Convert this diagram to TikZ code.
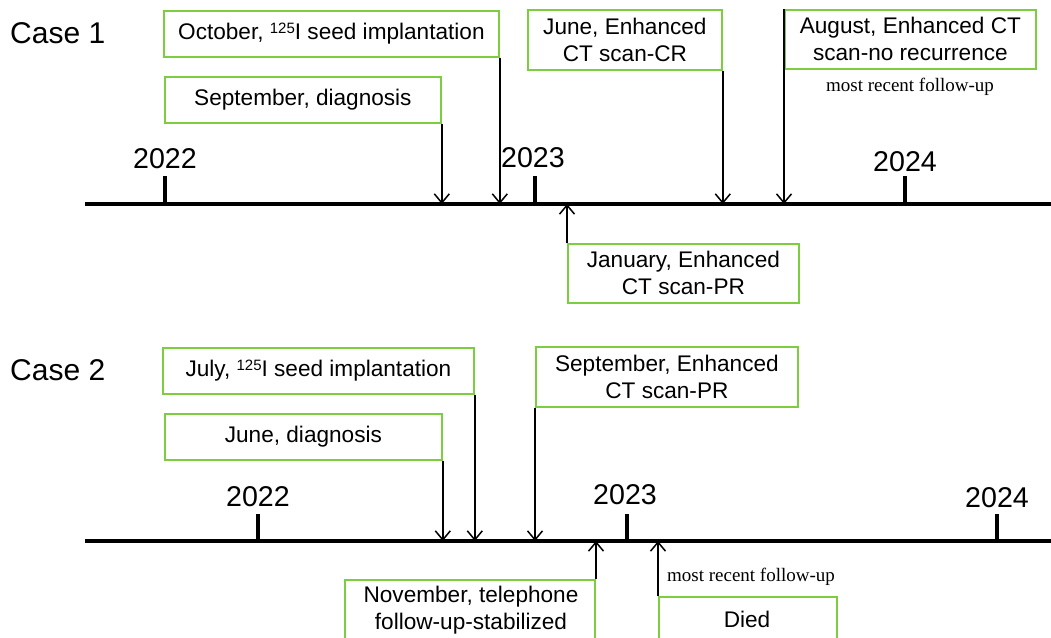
\documentclass[tikz,border=0pt]{standalone}
\usepackage{fontspec}
\setmainfont{Liberation Sans}
\newfontfamily\serifnote{Liberation Serif}
\usetikzlibrary{arrows.meta}
\definecolor{boxgreen}{RGB}{125,205,65}
\tikzset{
  evbox/.style={draw=boxgreen, line width=1.8pt, fill=white, inner sep=0pt, anchor=north west,
    align=center, font=\fontsize{22.6}{27}\selectfont},
  axisline/.style={line width=3.3pt, -{Straight Barb[length=7pt,width=14pt,line width=1.5pt]}},
  tickline/.style={line width=3.2pt},
  evarrow/.style={line width=1.5pt, -{Straight Barb[length=9pt,width=15pt,line width=1.5pt]}},
  yearlbl/.style={font=\fontsize{28.6}{30}\selectfont, inner sep=0pt},
  caselbl/.style={font=\fontsize{30}{32}\selectfont, inner sep=0pt, anchor=west},
  notelbl/.style={font=\serifnote\fontsize{19}{21}\selectfont, inner sep=0pt}
}
\newcommand{\isosup}[1]{\raisebox{0.5ex}{\fontsize{15}{15}\selectfont #1}}
\begin{document}
\begin{tikzpicture}[x=1pt,y=-1pt]
\useasboundingbox (0,0) rectangle (1051,637);
% ---------------- Case 1 ----------------
\node[caselbl] (c1) at (10,33) {Case 1};
\coordinate (a1s) at (85,204);
\coordinate (a1e) at (1062,204);
\draw[axisline] (a1s) -- (a1e);
\coordinate (t1a) at (165,204);
\coordinate (t1b) at (535,204);
\coordinate (t1c) at (905,204);
\draw[tickline] (t1a) -- ++(0,-28);
\draw[tickline] (t1b) -- ++(0,-28);
\draw[tickline] (t1c) -- ++(0,-28);
\node[yearlbl] (y1a) at (165,159) {2022};
\node[yearlbl] (y1b) at (533,158) {2023};
\node[yearlbl] (y1c) at (905,162) {2024};

\node[evbox, minimum width=335pt, minimum height=46pt] (oct) at (163,10) {October, \isosup{125}I seed implantation};
\node[evbox, minimum width=276pt, minimum height=46pt] (sep1) at (164,76) {September, diagnosis};
\node[evbox, minimum width=194pt, minimum height=60pt] (jun1) at (527,9) {June, Enhanced\\CT scan-CR};
\node[evbox, minimum width=251pt, minimum height=59pt] (aug1) at (784,9) {August, Enhanced CT\\scan-no recurrence};
\node[notelbl] (note1) at (910,87) {most recent follow-up};
\node[evbox, minimum width=231pt, minimum height=59pt] (jan1) at (567,243) {January, Enhanced\\CT scan-PR};

\draw[evarrow] (sep1.south east) -- (sep1.south east |- a1s);
\draw[evarrow] (oct.south east) -- (oct.south east |- a1s);
\draw[evarrow] (jun1.south east) -- (jun1.south east |- a1s);
\draw[evarrow] (aug1.north west) -- (aug1.north west |- a1s);
\draw[evarrow] (jan1.north west) -- (jan1.north west |- a1s);

% ---------------- Case 2 ----------------
\node[caselbl] (c2) at (10,370) {Case 2};
\coordinate (a2s) at (85,541);
\coordinate (a2e) at (1062,541);
\draw[axisline] (a2s) -- (a2e);
\coordinate (t2a) at (258,541);
\coordinate (t2b) at (627,541);
\coordinate (t2c) at (997,541);
\draw[tickline] (t2a) -- ++(0,-27);
\draw[tickline] (t2b) -- ++(0,-27);
\draw[tickline] (t2c) -- ++(0,-27);
\node[yearlbl] (y2a) at (258,497) {2022};
\node[yearlbl] (y2b) at (625,495) {2023};
\node[yearlbl] (y2c) at (997,498) {2024};

\node[evbox, minimum width=311pt, minimum height=46pt] (jul2) at (162,347) {July, \isosup{125}I seed implantation};
\node[evbox, minimum width=277pt, minimum height=46pt] (jun2) at (164,413) {June, diagnosis};
\node[evbox, minimum width=262pt, minimum height=60pt] (sep2) at (535,346) {September, Enhanced\\CT scan-PR};
\node[evbox, minimum width=250pt, minimum height=80pt, anchor=north east] (nov2) at (596,579) {};
\node[align=center, font=\fontsize{22.6}{27}\selectfont, inner sep=0pt] (nov2t) at (471,610) {November, telephone\\follow-up-stabilized};
\node[evbox, minimum width=178pt, minimum height=60pt] (died) at (658,596) {};
\node[font=\fontsize{22.6}{27}\selectfont, inner sep=0pt] (diedt) at (747,619) {Died};
\node[notelbl] (note2) at (751,577) {most recent follow-up};

\draw[evarrow] (jun2.south east) -- (jun2.south east |- a2s);
\draw[evarrow] (jul2.south east) -- (jul2.south east |- a2s);
\draw[evarrow] (sep2.south west) -- (sep2.south west |- a2s);
\draw[evarrow] (nov2.north east) -- (nov2.north east |- a2s);
\draw[evarrow] (died.north west) -- (died.north west |- a2s);
\end{tikzpicture}
\end{document}
